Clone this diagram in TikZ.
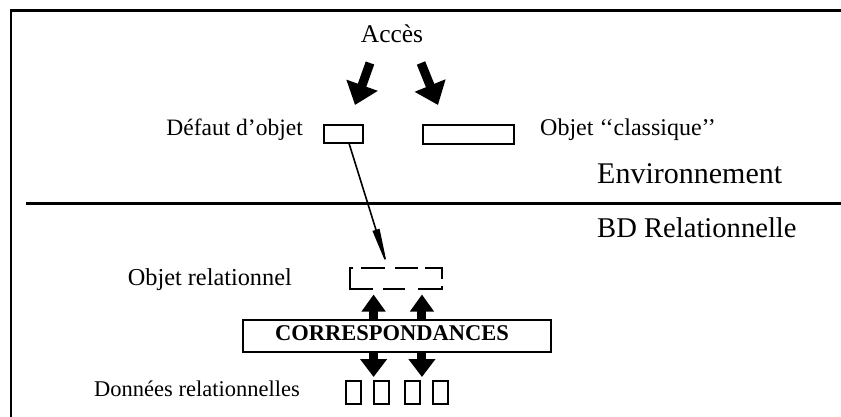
\documentclass[tikz,border=0pt]{standalone}
\usepackage{fontspec}
\setmainfont{Liberation Serif}
\usetikzlibrary{arrows.meta,calc}
\begin{document}
\begin{tikzpicture}[x=1pt,y=-1pt,
  lbl/.style={inner sep=0pt},
  box/.style={draw, line width=2pt, inner sep=0pt, anchor=north west, fill=white},
  fat/.style={line width=9pt, -{Triangle[length=21pt,width=32pt]}},
  dbl/.style={line width=9pt, -{Triangle[length=17pt,width=23pt]}},
  thinarr/.style={line width=1.6pt, -{Triangle[length=40pt,width=7pt]}},
  dsh/.style={line width=2pt}
]
\useasboundingbox (0,0) rectangle (841,417);
% frame and separator
\draw[line width=2.3pt] (841,10.5) -- (11,10.5) -- (11,417);
\draw[line width=3.5pt] (26,203.5) -- (841,203.5);

% labels
\node[lbl, anchor=base, font=\fontsize{25.5}{30}\selectfont] (acces) at (392,43) {Accès};
\node[lbl, anchor=base east, font=\fontsize{23.5}{28}\selectfont] (ldef) at (303,136) {Défaut d’objet};
\node[lbl, anchor=base west, font=\fontsize{24}{28}\selectfont] (lcla) at (540,136) {Objet ‘‘classique’’};
\node[lbl, anchor=base west, font=\fontsize{30}{34}\selectfont] (env) at (597,183) {Environnement};
\node[lbl, anchor=base west, font=\fontsize{28.6}{34}\selectfont] (bd) at (597,237.5) {BD Relationnelle};
\node[lbl, anchor=base east, font=\fontsize{24.3}{28}\selectfont] (lrel) at (292,285) {Objet relationnel};
\node[lbl, anchor=base east, font=\fontsize{22.5}{27}\selectfont] (ldon) at (300,396) {Données relationnelles};

% top boxes
\node[box, minimum width=39pt, minimum height=18pt] (defaut) at (323,124) {};
\node[box, minimum width=91pt, minimum height=19pt] (classique) at (422,124) {};

% fat access arrows
\coordinate (a1s) at (370,63);
\coordinate (a1e) at (355,105);
\coordinate (a2s) at (421,63);
\coordinate (a2e) at (438,105);
\draw[fat] (a1s) -- (a1e);
\draw[fat] (a2s) -- (a2e);

% relational object (dashed box)
\node[inner sep=0pt, minimum width=92pt, minimum height=21pt, anchor=north west] (relobj) at (350,268) {};
\draw[dsh] (353,268) -- (350,268) -- (350,289) -- (373,289);
\draw[dsh] (361,268) -- (385,268);
\draw[dsh] (395,268) -- (418,268);
\draw[dsh] (425,268) -- (442,268) -- (442,279);
\draw[dsh] (383,289) -- (405,289);
\draw[dsh] (418,289) -- (442,289) -- (442,286);

% thin arrow
\coordinate (t1) at ($(defaut.south west)!0.64!(defaut.south east)$);
\coordinate (t2) at ($(relobj.north west)!0.41!(relobj.north east)$);
\draw[thinarr] (t1) -- (t2);

% correspondances
\node[box, minimum width=308pt, minimum height=32pt] (corr) at (242,319) {};
\node[lbl, anchor=base, font=\bfseries\fontsize{22.5}{27}\selectfont] (corrtxt) at (392,340) {CORRESPONDANCES};

% double arrows
\coordinate (u1) at ($(corr.north west)!0.4245!(corr.north east)$);
\coordinate (u2) at ($(corr.north west)!0.5805!(corr.north east)$);
\coordinate (d1) at ($(corr.south west)!0.4245!(corr.south east)$);
\coordinate (d2) at ($(corr.south west)!0.5805!(corr.south east)$);
\draw[dbl] ([yshift=-1pt]u1) -- (u1 |- 0,294.5);
\draw[dbl] ([yshift=-1pt]u2) -- (u2 |- 0,294.5);
\draw[-{Triangle[length=18pt,width=26pt]}, line width=9pt] ([yshift=1pt]d1) -- (d1 |- 0,377);
\draw[-{Triangle[length=18pt,width=26pt]}, line width=9pt] ([yshift=1pt]d2) -- (d2 |- 0,377);

% relational data boxes
\node[box, minimum width=15pt, minimum height=23pt] (r1) at (345,380) {};
\node[box, minimum width=15pt, minimum height=23pt] (r2) at (373,380) {};
\node[box, minimum width=15pt, minimum height=23pt] (r3) at (404,380) {};
\node[box, minimum width=15pt, minimum height=23pt] (r4) at (432,380) {};
\end{tikzpicture}
\end{document}
